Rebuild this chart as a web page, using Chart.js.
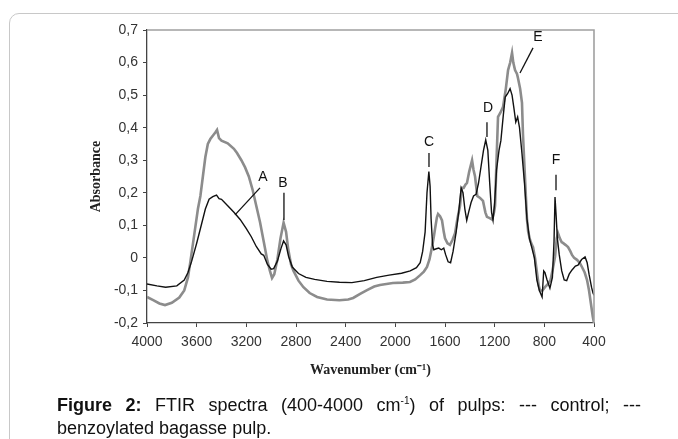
<!DOCTYPE html>
<html>
<head>
<meta charset="utf-8">
<script src="https://cdn.jsdelivr.net/npm/chart.js@4"></script>
<style>
  html, body { margin: 0; padding: 0; background: #fff; }
  #wrap { position: relative; width: 678px; height: 439px; overflow: hidden; }
  #frame { position: absolute; left: 9px; top: 13px; width: 720px; height: 480px;
           border: 1px solid #c8c8c8; border-radius: 10px; }
  #myChart { position: absolute; left: 0; top: 0; }
  #caption { position: absolute; left: 57px; top: 394px; width: 584px;
             font-family: "Liberation Sans", Arial, sans-serif; font-size: 18px;
             line-height: 23px; color: #111; text-align: justify; }
  #caption sup { font-size: 10px; line-height: 0; }
</style>
</head>
<body>
<div id="wrap">
  <div id="frame"></div>
  <canvas id="myChart" width="678" height="439"></canvas>
  <div id="caption"><b>Figure 2:</b> FTIR spectra (400-4000 cm<sup>-1</sup>) of pulps: --- control; --- benzoylated bagasse pulp.</div>
</div>
<script>
// control pulp (black)
var controlWn = [4000, 3920, 3850, 3760, 3700, 3670, 3640, 3600, 3560, 3530, 3500, 3470, 3440, 3420, 3400,
  3350, 3300, 3250, 3200, 3160, 3120, 3080, 3060, 3030, 3000, 2980, 2950, 2920, 2900, 2880, 2860, 2830,
  2780, 2720, 2650, 2550, 2450, 2350, 2250, 2150, 2050, 1950, 1880, 1830, 1800, 1780, 1760, 1745, 1730,
  1720, 1712, 1700, 1690, 1670, 1650, 1630, 1610, 1595, 1575, 1555, 1535, 1510, 1490, 1470, 1455, 1440,
  1425, 1410, 1390, 1370, 1350, 1330, 1310, 1290, 1272, 1255, 1240, 1225, 1213, 1200, 1185, 1165, 1150,
  1130, 1115, 1095, 1076, 1060, 1045, 1030, 1015, 1000, 980, 960, 940, 920, 900, 880, 860, 840, 818,
  805, 795, 778, 755, 735, 722, 714, 705, 695, 680, 660, 640, 620, 600, 577, 550, 529, 500, 472, 455,
  440, 420, 408, 400];
var controlAbs = [-0.080, -0.086, -0.090, -0.086, -0.068, -0.045, -0.010, 0.045, 0.105, 0.150, 0.180, 0.188, 0.193, 0.182, 0.180,
  0.160, 0.140, 0.118, 0.090, 0.065, 0.035, 0.012, 0.008, -0.020, -0.035, -0.033, -0.010, 0.030, 0.052, 0.040, 0.005, -0.028,
  -0.048, -0.060, -0.066, -0.072, -0.075, -0.076, -0.070, -0.060, -0.053, -0.047, -0.040, -0.030, -0.015, 0.020, 0.080, 0.200, 0.265,
  0.220, 0.120, 0.040, 0.025, 0.028, 0.030, 0.025, 0.030, 0.010, -0.012, -0.015, 0.020, 0.080, 0.140, 0.215, 0.200, 0.150,
  0.115, 0.140, 0.170, 0.190, 0.195, 0.230, 0.280, 0.330, 0.362, 0.330, 0.230, 0.140, 0.116, 0.170, 0.270, 0.330, 0.360,
  0.440, 0.494, 0.505, 0.520, 0.500, 0.460, 0.417, 0.433, 0.400, 0.320, 0.230, 0.120, 0.060, 0.030, 0.000, -0.068, -0.100, -0.120,
  -0.040, -0.045, -0.068, -0.093, -0.060, 0.050, 0.187, 0.130, 0.060, 0.010, -0.040, -0.068, -0.070, -0.050, -0.037, -0.025, -0.022, -0.005, 0.003, -0.015,
  -0.050, -0.090, -0.108, -0.115];

// benzoylated bagasse pulp (grey)
var benzoylWn = [4000, 3950, 3900, 3855, 3800, 3740, 3700, 3670, 3650, 3620, 3590, 3570, 3550, 3530, 3510,
  3490, 3470, 3450, 3436, 3420, 3400, 3350, 3300, 3275, 3240, 3210, 3180, 3150, 3120, 3090, 3060, 3030,
  3010, 2993, 2975, 2950, 2925, 2900, 2880, 2864, 2840, 2820, 2780, 2740, 2690, 2630, 2550, 2450, 2380,
  2340, 2280, 2228, 2170, 2124, 2020, 1940, 1882, 1840, 1800, 1770, 1745, 1725, 1705, 1690, 1680, 1665,
  1656, 1640, 1624, 1610, 1600, 1580, 1560, 1540, 1519, 1500, 1479, 1465, 1450, 1435, 1423, 1405, 1382,
  1370, 1358, 1340, 1320, 1294, 1275, 1262, 1240, 1221, 1205, 1197, 1185, 1173, 1155, 1133, 1110, 1092,
  1075, 1060, 1050, 1036, 1020, 1012, 995, 980, 972, 960, 950, 940, 930, 915, 900, 891, 875, 859, 845,
  835, 815, 795, 770, 750, 735, 714, 700, 690, 675, 660, 650, 630, 609, 590, 577, 560, 537, 515, 497,
  475, 456, 440, 425, 410, 400];
var benzoylAbs = [-0.120, -0.130, -0.140, -0.145, -0.138, -0.122, -0.100, -0.060, -0.010, 0.070, 0.150, 0.190, 0.250, 0.310, 0.350,
  0.365, 0.375, 0.385, 0.393, 0.368, 0.360, 0.352, 0.335, 0.322, 0.300, 0.278, 0.250, 0.210, 0.160, 0.110, 0.050, -0.010,
  -0.040, -0.062, -0.050, -0.005, 0.060, 0.108, 0.080, 0.030, -0.020, -0.040, -0.070, -0.090, -0.108, -0.120, -0.128, -0.130, -0.128,
  -0.123, -0.110, -0.099, -0.088, -0.083, -0.077, -0.076, -0.074, -0.066, -0.053, -0.042, -0.028, -0.005, 0.033, 0.065, 0.090, 0.125,
  0.135, 0.128, 0.115, 0.080, 0.060, 0.045, 0.040, 0.055, 0.076, 0.120, 0.160, 0.215, 0.215, 0.225, 0.230, 0.265, 0.300,
  0.270, 0.250, 0.190, 0.185, 0.175, 0.140, 0.126, 0.122, 0.118, 0.140, 0.160, 0.300, 0.433, 0.445, 0.463, 0.520, 0.577,
  0.600, 0.630, 0.600, 0.577, 0.565, 0.552, 0.520, 0.476, 0.380, 0.280, 0.200, 0.120, 0.080, 0.055, 0.040, 0.033, 0.000, -0.046, -0.085,
  -0.100, -0.100, -0.090, -0.080, -0.068, -0.040, 0.003, 0.060, 0.076, 0.060, 0.048, 0.046, 0.040, 0.033, 0.020, 0.009, 0.000, -0.006, -0.015, -0.028,
  -0.045, -0.068, -0.100, -0.140, -0.180, -0.200];

var xTicks = [4000, 3600, 3200, 2800, 2400, 2000, 1600, 1200, 800, 400];
var yTicks = [-0.2, -0.1, 0, 0.1, 0.2, 0.3, 0.4, 0.5, 0.6, 0.7];

// peak letters: label position and pointer line, all in data units (wavenumber, absorbance)
var peakNames = ['A', 'B', 'C', 'D', 'E', 'F'];
var peakTextWn = [3066, 2905, 1729, 1254, 851, 706];
var peakTextAbs = [0.248, 0.230, 0.356, 0.460, 0.678, 0.301];
var peakLineWn1 = [3090, 2897, 1729, 1262, 891, 706];
var peakLineAbs1 = [0.215, 0.200, 0.322, 0.417, 0.645, 0.255];
var peakLineWn2 = [3291, 2897, 1729, 1262, 996, 706];
var peakLineAbs2 = [0.132, 0.116, 0.279, 0.371, 0.568, 0.208];

function toPoints(xs, ys) {
  return xs.map(function (x, i) { return { x: x, y: ys[i] }; });
}

var peakPlugin = {
  id: 'peaks',
  afterDatasetsDraw: function (chart) {
    var ctx = chart.ctx, xs = chart.scales.x, ys = chart.scales.y;
    ctx.save();
    ctx.strokeStyle = '#111';
    ctx.lineWidth = 1.3;
    ctx.fillStyle = '#111';
    ctx.font = '14px "Liberation Sans", Arial, sans-serif';
    ctx.textAlign = 'center';
    ctx.textBaseline = 'middle';
    for (var i = 0; i < peakNames.length; i++) {
      ctx.beginPath();
      ctx.moveTo(xs.getPixelForValue(peakLineWn1[i]), ys.getPixelForValue(peakLineAbs1[i]));
      ctx.lineTo(xs.getPixelForValue(peakLineWn2[i]), ys.getPixelForValue(peakLineAbs2[i]));
      ctx.stroke();
      ctx.fillText(peakNames[i], xs.getPixelForValue(peakTextWn[i]), ys.getPixelForValue(peakTextAbs[i]));
    }
    // grey frame on top and right of the plot
    var a = chart.chartArea;
    ctx.strokeStyle = '#a0a0a0';
    ctx.lineWidth = 1.6;
    ctx.beginPath();
    ctx.moveTo(a.left, a.top);
    ctx.lineTo(a.right, a.top);
    ctx.lineTo(a.right, a.bottom);
    ctx.stroke();
    ctx.restore();
  }
};

var ctx = document.getElementById('myChart').getContext('2d');
var chart = new Chart(ctx, {
  type: 'line',
  data: {
    datasets: [{
      label: 'control',
      data: toPoints(controlWn, controlAbs),
      borderColor: '#111',
      borderWidth: 1.4,
      pointRadius: 0,
      tension: 0
    }, {
      label: 'benzoylated',
      data: toPoints(benzoylWn, benzoylAbs),
      borderColor: '#8c8c8c',
      borderWidth: 2.6,
      pointRadius: 0,
      tension: 0
    }]
  },
  options: {
    responsive: false,
    animation: false,
    devicePixelRatio: 1,
    layout: { padding: { left: 84, right: 84, top: 30, bottom: 56 } },
    plugins: { legend: { display: false }, tooltip: { enabled: false } },
    scales: {
      x: {
        type: 'linear',
        reverse: true,
        min: 400,
        max: 4000,
        afterBuildTicks: function (s) { s.ticks = xTicks.map(function (v) { return { value: v }; }); },
        afterFit: function (s) { s.height = 60; },
        ticks: {
          color: '#333',
          font: { family: '"Liberation Sans", Arial, sans-serif', size: 14 },
          padding: 7,
          maxRotation: 0,
          autoSkip: false,
          callback: function (v) { return String(v); }
        },
        grid: { drawOnChartArea: false, drawTicks: true, tickLength: 4, color: '#444' },
        border: { color: '#444', width: 1.3 },
        title: {
          display: true,
          text: 'Wavenumber (cm⁻¹)',
          color: '#222',
          font: { family: '"Liberation Serif", "Times New Roman", serif', size: 14, weight: 'bold' },
          padding: { top: 4, bottom: 4 }
        }
      },
      y: {
        min: -0.2,
        max: 0.7,
        afterBuildTicks: function (s) { s.ticks = yTicks.map(function (v) { return { value: v }; }); },
        afterFit: function (s) { s.width = 63; },
        ticks: {
          color: '#333',
          font: { family: '"Liberation Sans", Arial, sans-serif', size: 14 },
          padding: 5,
          callback: function (v) {
            if (Math.abs(v) < 1e-9) return '0';
            return v.toFixed(1).replace('.', ',');
          }
        },
        grid: { drawOnChartArea: false, drawTicks: true, tickLength: 4, color: '#444' },
        border: { color: '#444', width: 1.3 },
        title: {
          display: true,
          text: 'Absorbance',
          color: '#222',
          font: { family: '"Liberation Serif", "Times New Roman", serif', size: 14, weight: 'bold' },
          padding: { top: 4, bottom: 4 }
        }
      }
    }
  },
  plugins: [peakPlugin]
});
</script>
</body>
</html>
